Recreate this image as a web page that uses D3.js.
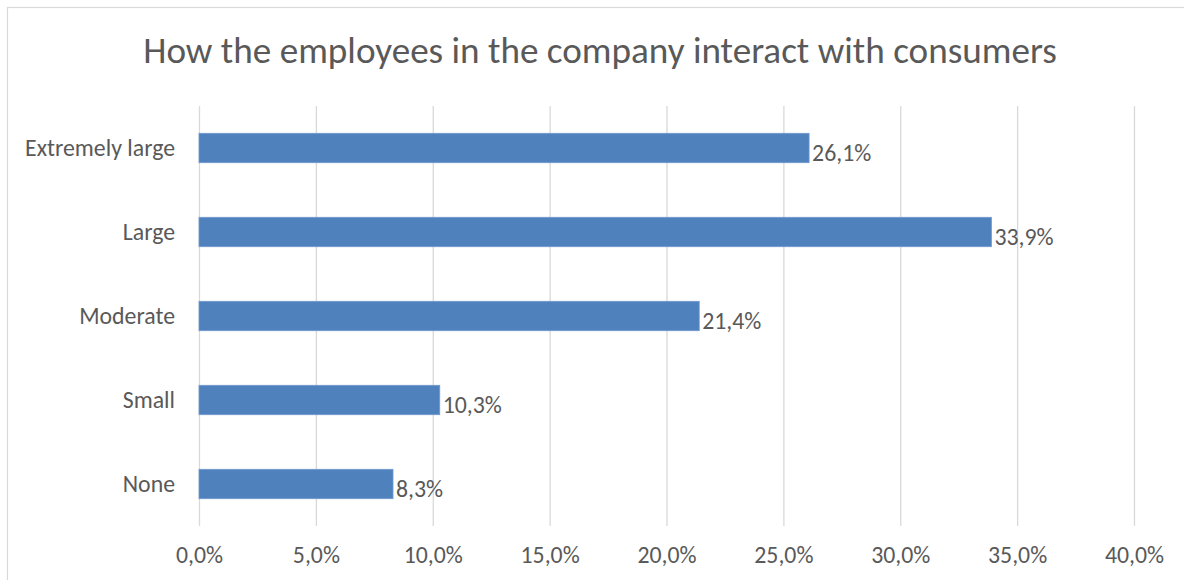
<!DOCTYPE html>
<html>
<head>
<meta charset="utf-8">
<script src="https://cdn.jsdelivr.net/npm/d3@7"></script>
<style>
  html, body { margin: 0; padding: 0; background: #fff; }
  svg { display: block; }
  text { font-family: Carlito, Lato, "Open Sans", sans-serif; fill: #595959; }
</style>
</head>
<body>
<svg id="chart" width="1184" height="580"></svg>
<script>
// Survey answers, top to bottom
const categories = ["Extremely large", "Large", "Moderate", "Small", "None"];
const shares = [26.1, 33.9, 21.4, 10.3, 8.3];
const tickValues = [0, 5, 10, 15, 20, 25, 30, 35, 40];
const titleText = "How the employees in the company interact with consumers";

const svg = d3.select("#chart");
const W = 1184, H = 580;
const margin = { left: 199, right: 50, top: 106, bottom: 54 };

const fmt = v => d3.format(".1f")(v).replace(".", ",") + "%";

// chart frame
svg.append("rect")
  .attr("x", 7.5).attr("y", 7.5)
  .attr("width", W + 20).attr("height", H + 20)
  .attr("fill", "#fff").attr("stroke", "#d9d9d9").attr("stroke-width", 1.2);

const x = d3.scaleLinear().domain([0, 40]).range([margin.left, W - margin.right]);
const y = d3.scaleBand().domain(categories)
  .range([margin.top, H - margin.bottom]).paddingInner(0.65).paddingOuter(0.325);

// fit a text element to a target pixel width by adjusting its font size
function fitSize(sel, targetW, base) {
  sel.attr("font-size", base);
  const w = sel.node().getComputedTextLength();
  const s = base * targetW / w;
  sel.attr("font-size", s);
  return s;
}

// vertical gridlines
svg.append("g").selectAll("line").data(tickValues).join("line")
  .attr("x1", d => x(d) + 0.5).attr("x2", d => x(d) + 0.5)
  .attr("y1", margin.top).attr("y2", H - margin.bottom)
  .attr("stroke", "#d9d9d9").attr("stroke-width", 1.3);

// title
const title = svg.append("text")
  .attr("x", (143 + 1057) / 2).attr("y", 63)
  .attr("text-anchor", "middle")
  .attr("font-weight", 300)
  .text(titleText);
fitSize(title, 914, 36);

// reference size for axis and data labels
const probe = svg.append("text").attr("font-weight", 300).text("Extremely large");
const labelSize = fitSize(probe, 150, 20);
probe.remove();

// x-axis tick labels
const xAxis = d3.axisBottom(x).tickValues(tickValues).tickFormat(fmt).tickSize(0).tickPadding(0);
const gx = svg.append("g").attr("transform", `translate(0, 563)`).call(xAxis);
gx.select(".domain").remove();
gx.selectAll("text")
  .attr("dy", 0).attr("y", 0)
  .attr("font-size", labelSize)
  .attr("font-weight", 300)
  .attr("fill", "#595959");

// category labels
const yAxis = d3.axisLeft(y).tickSize(0).tickPadding(0);
const gy = svg.append("g").attr("transform", `translate(175, 0)`).call(yAxis);
gy.select(".domain").remove();
gy.selectAll("text")
  .attr("x", 0).attr("dy", "0.35em")
  .attr("font-size", labelSize)
  .attr("font-weight", 300)
  .attr("fill", "#595959");
svg.selectAll("g").attr("font-family", null);

// bars
svg.append("g").selectAll("rect").data(categories).join("rect")
  .attr("x", x(0))
  .attr("y", d => y(d))
  .attr("width", (d, i) => x(shares[i]) - x(0))
  .attr("height", y.bandwidth())
  .attr("fill", "#4f81bd")
  .attr("stroke", "#6f9ad1").attr("stroke-width", 0.8);

// value labels
svg.append("g").selectAll("text").data(categories).join("text")
  .attr("x", (d, i) => x(shares[i]) + 3)
  .attr("y", d => y(d) + y.bandwidth() / 2 + 5)
  .attr("dy", "0.35em")
  .attr("font-size", labelSize)
  .attr("font-weight", 300)
  .attr("fill", "#404040")
  .text((d, i) => fmt(shares[i]));
</script>
</body>
</html>
